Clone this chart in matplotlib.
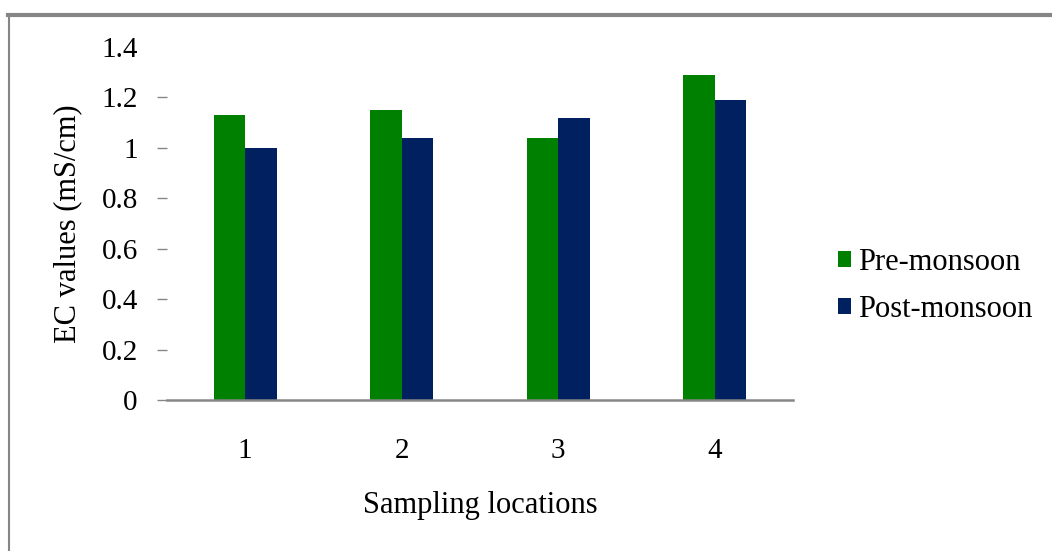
import matplotlib
matplotlib.use("Agg")
import matplotlib.pyplot as plt
import numpy as np
from matplotlib.lines import Line2D

# EC values per sampling location
locations = ["1", "2", "3", "4"]
pre_monsoon = [1.13, 1.15, 1.04, 1.29]
post_monsoon = [1.00, 1.04, 1.12, 1.19]
y_ticks = [0, 0.2, 0.4, 0.6, 0.8, 1, 1.2, 1.4]
y_tick_labels = ["0", "0.2", "0.4", "0.6", "0.8", "1", "1.2", "1.4"]

GREEN = "#008000"
NAVY = "#002060"
GRAY = "#868686"

plt.rcParams["font.family"] = ["Liberation Serif", "DejaVu Serif"]

fig = plt.figure(figsize=(10.52, 5.51), dpi=100)
ax = fig.add_axes([167 / 1052, 1 - 400 / 551, (793 - 167) / 1052, (400 - 47) / 551])

x = np.arange(len(locations))
width = 0.2
ax.bar(x - width / 2, pre_monsoon, width, color=GREEN, label="Pre-monsoon")
ax.bar(x + width / 2, post_monsoon, width, color=NAVY, label="Post-monsoon")

ax.set_xlim(-0.5, len(locations) - 0.5)
ax.set_ylim(0, 1.4)
ax.set_xticks(x)
ax.set_xticklabels(locations, fontsize=21)
ax.set_yticks(y_ticks)
ax.set_yticklabels(y_tick_labels, fontsize=21)

for side in ["top", "right", "left"]:
    ax.spines[side].set_visible(False)
ax.spines["bottom"].set_color(GRAY)
ax.spines["bottom"].set_linewidth(1.8)

ax.tick_params(axis="x", length=0, pad=27)
ax.tick_params(axis="y", length=7, width=1, color=GRAY, pad=14)
ax.yaxis.get_major_ticks()[-1].tick1line.set_visible(False)

ax.set_xlabel("Sampling locations", fontsize=22, labelpad=20)
ax.set_ylabel("EC values (mS/cm)", fontsize=22, labelpad=14)

ax.legend(loc="center left", bbox_to_anchor=(838 / 1052, 1 - 286 / 551),
          bbox_transform=fig.transFigure, frameon=False, fontsize=22,
          handlelength=0.42, handleheight=0.42, handletextpad=0.25,
          labelspacing=0.6, borderpad=0, borderaxespad=0)

# outer chart border (only top and left visible)
fig.add_artist(Line2D([8 / 1052, 1], [1 - 15 / 551, 1 - 15 / 551],
                      transform=fig.transFigure, color=GRAY, lw=3))
fig.add_artist(Line2D([9 / 1052, 9 / 1052], [0, 1 - 15 / 551],
                      transform=fig.transFigure, color=GRAY, lw=1.5))

fig.savefig("out.png", dpi=100)
